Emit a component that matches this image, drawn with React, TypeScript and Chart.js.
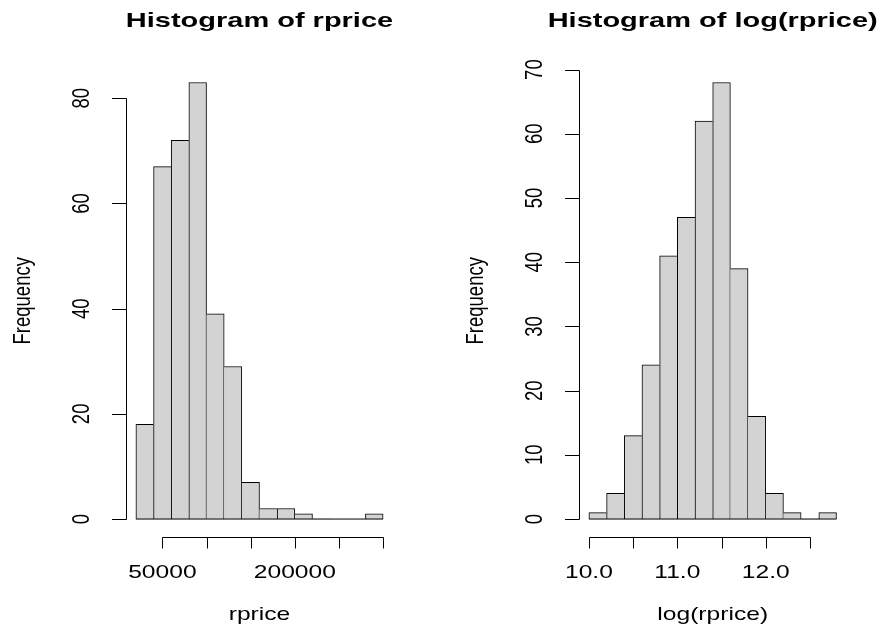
import React, { useEffect, useRef } from "react";
import { Chart, registerables } from "chart.js";

Chart.register(...registerables);

// ---- Left panel: Histogram of rprice ----
const priceBinStarts = [20000, 40000, 60000, 80000, 100000, 120000, 140000, 160000, 180000, 200000, 220000, 240000, 260000, 280000];
const priceCounts = [18, 67, 72, 83, 39, 29, 7, 2, 2, 1, 0, 0, 0, 1];
const priceBinWidth = 20000;
const priceXTicks = [50000, 100000, 150000, 200000, 250000, 300000];
const priceXTickLabels = ["50000", "", "", "200000", "", ""];
const priceYTicks = [0, 20, 40, 60, 80];

// ---- Right panel: Histogram of log(rprice) ----
const logBinStarts = [10.0, 10.2, 10.4, 10.6, 10.8, 11.0, 11.2, 11.4, 11.6, 11.8, 12.0, 12.2, 12.4, 12.6];
const logCounts = [1, 4, 13, 24, 41, 47, 62, 68, 39, 16, 4, 1, 0, 1];
const logBinWidth = 0.2;
const logXTicks = [10.0, 10.5, 11.0, 11.5, 12.0, 12.5];
const logXTickLabels = ["10.0", "", "11.0", "", "12.0", ""];
const logYTicks = [0, 10, 20, 30, 40, 50, 60, 70];

const FONT = '"Liberation Sans", Arial, Helvetica, sans-serif';
const FILL = "#D3D3D3";

type PanelProps = {
  binStarts: number[];
  counts: number[];
  binWidth: number;
  xTicks: number[];
  xTickLabels: string[];
  yTicks: number[];
  title: string;
  xlab: string;
  ylab: string;
  padding: { left: number; right: number; top: number; bottom: number };
};

const rAxesPlugin = {
  id: "rAxes",
  afterDraw(chart: any, _args: any, opts: any) {
    const { ctx, chartArea, scales } = chart;
    const xs = scales.x;
    const ys = scales.y;
    const yTicks: number[] = opts.yTicks;
    const xTicks: number[] = opts.xTicks;
    const xLabels: string[] = opts.xTickLabels;
    ctx.save();
    ctx.strokeStyle = "#000";
    ctx.fillStyle = "#000";
    ctx.lineWidth = 1;

    // y axis (R style: spans first..last tick, at left of plot region)
    const axX = Math.round(chartArea.left) + 0.5;
    const yA = Math.round(ys.getPixelForValue(yTicks[0])) + 0.5;
    const yB = Math.round(ys.getPixelForValue(yTicks[yTicks.length - 1])) + 0.5;
    ctx.beginPath();
    ctx.moveTo(axX, yA);
    ctx.lineTo(axX, yB);
    yTicks.forEach((v) => {
      const y = Math.round(ys.getPixelForValue(v)) + 0.5;
      ctx.moveTo(axX, y);
      ctx.lineTo(axX - 14.5, y);
    });
    // x axis
    const axY = Math.round(chartArea.bottom) + 0.5;
    const xA = Math.round(xs.getPixelForValue(xTicks[0])) + 0.5;
    const xB = Math.round(xs.getPixelForValue(xTicks[xTicks.length - 1])) + 0.5;
    ctx.moveTo(xA, axY);
    ctx.lineTo(xB, axY);
    xTicks.forEach((v) => {
      const x = Math.round(xs.getPixelForValue(v)) + 0.5;
      ctx.moveTo(x, axY);
      ctx.lineTo(x, axY + 11);
    });
    ctx.stroke();

    const drawH = (text: string, x: number, y: number, font: string, sx: number) => {
      ctx.save();
      ctx.translate(x, y);
      ctx.scale(sx, 1);
      ctx.font = font;
      ctx.textAlign = "center";
      ctx.textBaseline = "alphabetic";
      ctx.fillText(text, 0, 0);
      ctx.restore();
    };
    const drawV = (text: string, x: number, y: number, font: string, sx: number) => {
      ctx.save();
      ctx.translate(x, y);
      ctx.scale(sx, 1);
      ctx.rotate(-Math.PI / 2);
      ctx.font = font;
      ctx.textAlign = "center";
      ctx.textBaseline = "alphabetic";
      ctx.fillText(text, 0, 0);
      ctx.restore();
    };

    const labelFont = `18.5px ${FONT}`;
    // x tick labels
    xTicks.forEach((v, i) => {
      const t = xLabels[i];
      if (t) drawH(t, xs.getPixelForValue(v), 577.5, labelFont, 1.33);
    });
    // y tick labels
    yTicks.forEach((v) => {
      drawV(String(v), chartArea.left - 37, ys.getPixelForValue(v), labelFont, 1.25);
    });
    const cx = (chartArea.left + chartArea.right) / 2;
    const cy = (chartArea.top + chartArea.bottom) / 2;
    drawH(opts.xlab, cx, 620, labelFont, 1.33);
    drawV(opts.ylab, chartArea.left - 96, cy, labelFont, 1.3);
    drawH(opts.title, cx, 27.3, `bold 21px ${FONT}`, 1.38);
    ctx.restore();
  },
};

function HistPanel(props: PanelProps) {
  const ref = useRef<HTMLCanvasElement | null>(null);
  useEffect(() => {
    if (!ref.current) return;
    const { binStarts, counts, binWidth } = props;
    const xmin = binStarts[0];
    const xmax = binStarts[binStarts.length - 1] + binWidth;
    const xext = (xmax - xmin) * 0.04;
    const ymax = Math.max(...counts);
    const yext = ymax * 0.04;
    const barData = binStarts.map((s, i) => ({ x: s + binWidth / 2, y: counts[i] }));
    const chart = new Chart(ref.current, {
      type: "bar",
      data: {
        datasets: [
          {
            type: "line",
            data: [
              { x: xmin, y: 0 },
              { x: xmax, y: 0 },
            ],
            borderColor: "#000",
            borderWidth: 1,
            pointRadius: 0,
            order: 0,
          } as any,
          {
            type: "bar",
            data: barData,
            backgroundColor: FILL,
            borderColor: "#000",
            borderSkipped: false,
            borderWidth: (c: any) => {
              const i = c.dataIndex;
              const cur = counts[i];
              const prev = i > 0 ? counts[i - 1] : 0;
              const next = i < counts.length - 1 ? counts[i + 1] : 0;
              return {
                top: 1,
                bottom: 0,
                left: prev <= cur ? 1 : 0,
                right: next < cur ? 1 : 0,
              };
            },
            barPercentage: 1,
            categoryPercentage: 1,
            order: 1,
          } as any,
        ],
      },
      options: {
        animation: false,
        responsive: false,
        maintainAspectRatio: false,
        layout: { padding: props.padding },
        plugins: {
          legend: { display: false },
          tooltip: { enabled: false },
          title: { display: false },
          rAxes: {
            xTicks: props.xTicks,
            xTickLabels: props.xTickLabels,
            yTicks: props.yTicks,
            title: props.title,
            xlab: props.xlab,
            ylab: props.ylab,
          },
        } as any,
        scales: {
          x: {
            type: "linear",
            display: false,
            offset: false,
            grid: { offset: false },
            min: xmin - xext,
            max: xmax + xext,
          },
          y: { type: "linear", display: false, min: -yext, max: ymax + yext },
        },
      },
      plugins: [rAxesPlugin],
    });
    return () => chart.destroy();
  }, []);
  return <canvas ref={ref} width={441} height={627} style={{ display: "block", width: 441, height: 627 }} />;
}

export default function App() {
  return (
    <div style={{ position: "fixed", left: 0, top: 0, width: 882, height: 627, background: "#fff", display: "flex" }}>
      <HistPanel
        binStarts={priceBinStarts}
        counts={priceCounts}
        binWidth={priceBinWidth}
        xTicks={priceXTicks}
        xTickLabels={priceXTickLabels}
        yTicks={priceYTicks}
        title="Histogram of rprice"
        xlab="rprice"
        ylab="Frequency"
        padding={{ left: 126, right: 48, top: 65, bottom: 90.5 }}
      />
      <HistPanel
        binStarts={logBinStarts}
        counts={logCounts}
        binWidth={logBinWidth}
        xTicks={logXTicks}
        xTickLabels={logXTickLabels}
        yTicks={logYTicks}
        title="Histogram of log(rprice)"
        xlab="log(rprice)"
        ylab="Frequency"
        padding={{ left: 138, right: 35.6, top: 65, bottom: 90.5 }}
      />
    </div>
  );
}
